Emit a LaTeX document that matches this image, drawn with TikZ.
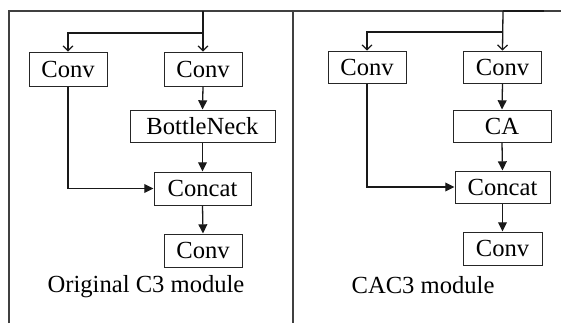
\documentclass[tikz,border=0pt]{standalone}
\usepackage{fontspec}
\setmainfont{Liberation Serif}
\usetikzlibrary{arrows.meta}
\begin{document}
\begin{tikzpicture}[x=0.5pt,y=-0.5pt,
  box/.style={draw=black!85,line width=0.5pt,inner sep=0pt,font=\fontsize{12.3}{14}\selectfont},
  link/.style={draw=black!90,line width=0.65pt},
  farrow/.style={link,-{Triangle[length=4.6pt,width=4.4pt]}},
  varrow/.style={link,-{Straight Barb[length=2.4pt,width=5pt,line width=0.6pt]}},
  frame/.style={draw=black!75,line width=0.65pt},
  lbl/.style={inner sep=0pt,font=\fontsize{12.3}{14}\selectfont}]
\useasboundingbox[fill=white] (0,0) rectangle (561,323);
% frames
\draw[frame] (9,323) -- (9,11) -- (561,11);
\draw[frame] (293,11) -- (293,323);
% left panel
\node[box,minimum width=39pt,minimum height=17pt] (lc1) at (68,69) {Conv};
\node[box,minimum width=39pt,minimum height=17pt] (lc2) at (203,69) {Conv};
\node[box,minimum width=72.5pt,minimum height=16pt] (lbn) at (202.5,126) {BottleNeck};
\node[box,minimum width=48.5pt,minimum height=16.5pt] (lcc) at (202.5,188.5) {Concat};
\node[box,minimum width=39pt,minimum height=16.5pt] (lc3) at (203,250.5) {Conv};
\node[lbl] (llab) at (146,287) {Original C3 module};
\coordinate (lin) at (203,11);
\coordinate (lbr) at (203,33);
\draw[varrow] (lin) -- (lc2.north);
\draw[varrow] (lbr) -| (lc1.north);
\draw[farrow] (lc2.south) -- (lbn.north);
\draw[farrow] (lbn.south) -- (lcc.north);
\draw[farrow] (lc1.south) |- (lcc.west);
\draw[farrow] (lcc.south) -- (lc3.north);
% right panel
\node[box,minimum width=39pt,minimum height=16pt] (rc1) at (367,67) {Conv};
\node[box,minimum width=39pt,minimum height=16pt] (rc2) at (502.5,67) {Conv};
\node[box,minimum width=49pt,minimum height=16pt] (rca) at (502,126) {CA};
\node[box,minimum width=47.5pt,minimum height=16pt] (rcc) at (502.5,187) {Concat};
\node[box,minimum width=39.5pt,minimum height=16.5pt] (rc3) at (502.5,248.5) {Conv};
\node[lbl] (rlab) at (423,285) {CAC3 module};
\coordinate (rin) at (503,11);
\coordinate (rtop) at (544,11);
\coordinate (rbr) at (503,32);
\draw[link] (rtop) -- (rin);
\draw[varrow] (rin) -- (rc2.north);
\draw[varrow] (rbr) -| (rc1.north);
\draw[farrow] (rc2.south) -- (rca.north);
\draw[farrow] (rca.south) -- (rcc.north);
\draw[farrow] (rc1.south) |- (rcc.west);
\draw[farrow] (rcc.south) -- (rc3.north);
\end{tikzpicture}
\end{document}
